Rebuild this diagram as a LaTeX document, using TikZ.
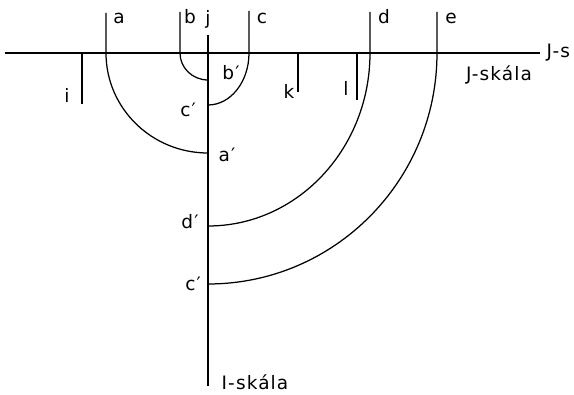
\documentclass[tikz,border=0pt]{standalone}
\usepackage{fontspec}
\setmainfont[LetterSpace=6]{DejaVu Sans}
\begin{document}
\begin{tikzpicture}[x=1pt,y=-1pt,line width=1.25pt,
  lbl/.style={font=\fontsize{18.5}{18.5}\selectfont,inner sep=0pt}]
\useasboundingbox[fill=white] (0,0) rectangle (574,395);
% axes
\coordinate (Hl) at (5,53); \coordinate (Hr) at (540,53);
\draw (Hl) -- (Hr);
\coordinate (jtop) at (208,35); \coordinate (jbot) at (208,386);
\draw (jtop) -- (jbot);
% arcs
\coordinate (atop) at (106,13); \coordinate (a0) at (106,53);
\draw (atop) -- (a0) arc[start angle=180,end angle=90,x radius=102,y radius=100] coordinate (ap);
\coordinate (btop) at (180,12); \coordinate (b0) at (180,53);
\draw (btop) -- (b0) arc[start angle=180,end angle=90,x radius=28,y radius=27] coordinate (bp);
\coordinate (ctop) at (249,11); \coordinate (c0) at (249,53);
\draw (ctop) -- (c0) arc[start angle=0,end angle=90,x radius=41,y radius=52] coordinate (cp);
\coordinate (dtop) at (370,12); \coordinate (d0) at (370,53);
\draw (dtop) -- (d0) arc[start angle=0,end angle=90,x radius=162,y radius=173] coordinate (dp);
\coordinate (etop) at (437,12); \coordinate (e0) at (437,53);
\draw (etop) -- (e0) arc[start angle=0,end angle=90,x radius=229,y radius=231] coordinate (ep);
% ticks
\coordinate (i0) at (82,53); \coordinate (i1) at (82,104);
\draw (i0) -- (i1);
\coordinate (k0) at (298,53); \coordinate (k1) at (298,92);
\draw (k0) -- (k1);
\coordinate (l0) at (357,53); \coordinate (l1) at (357,100);
\draw (l0) -- (l1);
% labels
\node[lbl] (la) at (119,18) {a};
\node[lbl] (lb) at (190,17) {b};
\node[lbl] (lj) at (208,19) {j};
\node[lbl] (lc) at (262,18) {c};
\node[lbl] (ld) at (384,17) {d};
\node[lbl] (le) at (451,18) {e};
\node[lbl] (lbp) at (231,73) {b′};
\node[lbl] (lcp1) at (188,110) {c′};
\node[lbl] (lap) at (227,155) {a′};
\node[lbl] (ldp) at (190,222) {d′};
\node[lbl] (lcp2) at (193,284) {c′};
\node[lbl] (li) at (67,95) {i};
\node[lbl] (lk) at (289,91) {k};
\node[lbl] (ll) at (346,88) {l};
\node[lbl] (lJ) at (499,75) {J-skála};
\node[lbl,anchor=west] (lJs) at (546,53) {J-s};
\node[lbl] (lI) at (255,382) {I-skála};
\end{tikzpicture}
\end{document}
